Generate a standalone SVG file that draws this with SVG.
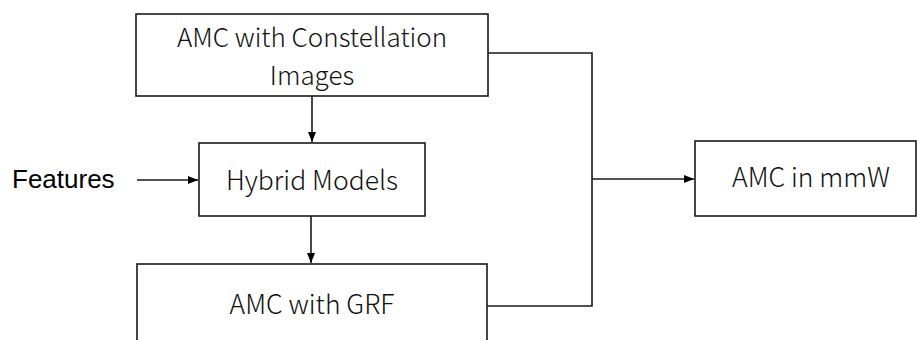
<svg xmlns="http://www.w3.org/2000/svg" width="917" height="340" viewBox="0 0 917 340">
<style>
.box{fill:#fff;stroke:#1a1a1a;stroke-width:1.6}
.t{font-family:"Noto Sans CJK SC","Open Sans",sans-serif;font-weight:300;font-size:26.5px;fill:#111;text-anchor:middle}
.t2{font-size:26px}
.f{font-family:"Liberation Sans",Arial,sans-serif;font-size:26px;fill:#000}
.c{fill:none;stroke:#1a1a1a;stroke-width:1.6}
</style>
<defs>
<marker id="ah" viewBox="0 0 10 10" refX="10" refY="5" markerWidth="10" markerHeight="10" markerUnits="userSpaceOnUse" orient="auto">
<path d="M0,1 L10,5 L0,9 Z" fill="#000"/>
</marker>
</defs>
<g id="n1"><rect class="box" x="136" y="14" width="352" height="82"/>
<text class="t t2" x="312" y="46.5">AMC with Constellation</text>
<text class="t t2" x="312" y="84.5">Images</text></g>
<g id="n2"><rect class="box" x="199" y="143" width="226" height="73"/>
<text class="t" x="312" y="190">Hybrid Models</text></g>
<g id="n3"><rect class="box" x="137" y="264" width="350" height="90"/>
<text class="t" x="312" y="314">AMC with GRF</text></g>
<g id="n4"><rect class="box" x="695" y="141" width="221" height="75"/>
<text class="t" x="811" y="187">AMC in mmW</text></g>
<g id="features"><text class="f" x="12" y="188">Features</text></g>
<g id="connectors">
<path class="c" d="M137,180 H198" marker-end="url(#ah)"/>
<path class="c" d="M312,96 V142" marker-end="url(#ah)"/>
<path class="c" d="M311,216 V263" marker-end="url(#ah)"/>
<path class="c" d="M488,53 H592 V306 H487"/>
<path class="c" d="M592,179 H694" stroke-width="2.4" marker-end="url(#ah)"/>
</g>
</svg>
